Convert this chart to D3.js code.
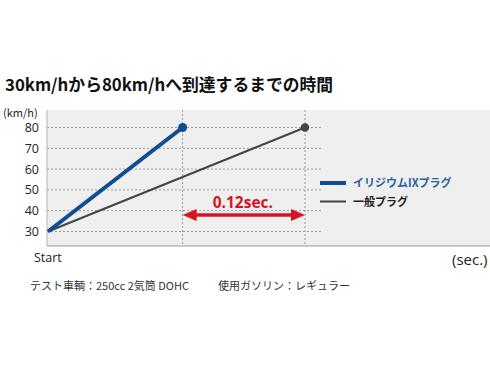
<!DOCTYPE html>
<html><head><meta charset="utf-8">
<script src="https://cdn.jsdelivr.net/npm/d3@7"></script>
<style>
html,body{margin:0;padding:0;background:#fff;}
text{font-family:"Noto Sans CJK JP","Noto Sans",sans-serif;}
</style></head>
<body>
<svg id="c" width="490" height="368"></svg>
<script>
const title = "30km/hから80km/hへ到達するまでの時間";
const yTicks = [30, 40, 50, 60, 70, 80];
const seriesNames = ["イリジウムIXプラグ", "一般プラグ"];
// time (arbitrary sec scale) at which each plug reaches 80 km/h from start
const iridiumTimes = [0, 1.1];
const iridiumSpeeds = [30, 80];
const normalTimes = [0, 2.1];
const normalSpeeds = [30, 80];
const gapLabel = "0.12sec.";
const footnotes = ["テスト車輌：250cc 2気筒 DOHC", "使用ガソリン：レギュラー"];

const svg = d3.select("#c");
const L = 47, R = 490, T = 110, B = 246;
const x = d3.scaleLinear().domain([0, 2.1]).range([48, 305]);
const y = d3.scaleLinear().domain([30, 80]).range([231.5, 127.5]);

svg.append("rect").attr("x", L).attr("y", T).attr("width", R - L).attr("height", B - T).attr("fill", "#efefef");

svg.append("g").selectAll("line").data(yTicks).join("line")
  .attr("x1", L).attr("x2", 322).attr("y1", d => y(d)).attr("y2", d => y(d))
  .attr("stroke", "#9a9a9a").attr("stroke-width", 1).attr("stroke-dasharray", "2,2");
svg.append("g").selectAll("line").data([iridiumTimes[1], normalTimes[1]]).join("line")
  .attr("x1", d => x(d)).attr("x2", d => x(d)).attr("y1", T).attr("y2", B)
  .attr("stroke", "#9a9a9a").attr("stroke-width", 1).attr("stroke-dasharray", "2,2");

svg.append("line").attr("x1", L).attr("x2", L).attr("y1", T).attr("y2", B).attr("stroke", "#b5b5b5");
svg.append("line").attr("x1", L).attr("x2", R).attr("y1", B).attr("y2", B).attr("stroke", "#999").attr("stroke-width", 1.2);

const yAxis = d3.axisLeft(y).tickValues(yTicks).tickSize(0).tickPadding(8);
const ga = svg.append("g").attr("transform", `translate(${L},0)`).call(yAxis);
ga.select(".domain").remove();
ga.selectAll("text").attr("font-size", 12.5).attr("fill", "#222").style("font-family", '"Open Sans","Noto Sans",sans-serif');

svg.append("text").attr("x", 3).attr("y", 116.5).attr("font-size", 11).attr("fill", "#222").text("(km/h)");
svg.append("text").attr("x", 34).attr("y", 262).attr("font-size", 12.5).attr("fill", "#222").style("font-family", '"Open Sans",sans-serif').text("Start");
svg.append("text").attr("x", 452).attr("y", 265).attr("font-size", 15).attr("fill", "#222").style("font-family", '"Open Sans",sans-serif').text("(sec.)");

const line = d3.line().x(d => x(d[0])).y(d => y(d[1]));
const nd = d3.zip(normalTimes, normalSpeeds), id = d3.zip(iridiumTimes, iridiumSpeeds);
svg.append("path").attr("d", line(nd)).attr("fill", "none").attr("stroke", "#444").attr("stroke-width", 2);
svg.append("circle").attr("cx", x(nd[1][0])).attr("cy", y(nd[1][1])).attr("r", 4.2).attr("fill", "#444");
svg.append("path").attr("d", line(id)).attr("fill", "none").attr("stroke", "#0f4c91").attr("stroke-width", 4);
svg.append("circle").attr("cx", x(id[1][0])).attr("cy", y(id[1][1])).attr("r", 4.5).attr("fill", "#0f4c91");

const ax1 = x(iridiumTimes[1]), ax2 = x(normalTimes[1]), ay = 215;
const red = "#d5141f";
svg.append("line").attr("x1", ax1 + 10).attr("x2", ax2 - 10).attr("y1", ay).attr("y2", ay).attr("stroke", red).attr("stroke-width", 3.5);
svg.append("path").attr("d", `M${ax1},${ay} L${ax1 + 14},${ay - 6} L${ax1 + 14},${ay + 6} Z`).attr("fill", red);
svg.append("path").attr("d", `M${ax2},${ay} L${ax2 - 14},${ay - 6} L${ax2 - 14},${ay + 6} Z`).attr("fill", red);
svg.append("text").attr("x", (ax1 + ax2) / 2 - 1).attr("y", 207.5).attr("text-anchor", "middle")
  .attr("font-size", 15.5).attr("font-weight", "bold").attr("fill", red)
  .style("font-family", '"Open Sans","Noto Sans",sans-serif').text(gapLabel);

const legColors = ["#0f4c91", "#444"], legW = [4, 2], legText = ["#2a5f9e", "#222"];
seriesNames.forEach((n, i) => {
  const ly = 183 + i * 18.5;
  svg.append("line").attr("x1", 320).attr("x2", 346).attr("y1", ly).attr("y2", ly).attr("stroke", legColors[i]).attr("stroke-width", legW[i]);
  svg.append("text").attr("x", 353).attr("y", ly + 4.3).attr("font-size", 11).attr("font-weight", "bold").attr("fill", legText[i]).text(n);
});

svg.append("text").attr("x", 5).attr("y", 91).attr("font-size", 16.8).attr("font-weight", "bold").attr("fill", "#111").text(title);

svg.append("text").attr("x", 30).attr("y", 290).attr("font-size", 11).attr("fill", "#333").text(footnotes[0]);
svg.append("text").attr("x", 218).attr("y", 290).attr("font-size", 11).attr("fill", "#333").text(footnotes[1]);
</script>
</body></html>
